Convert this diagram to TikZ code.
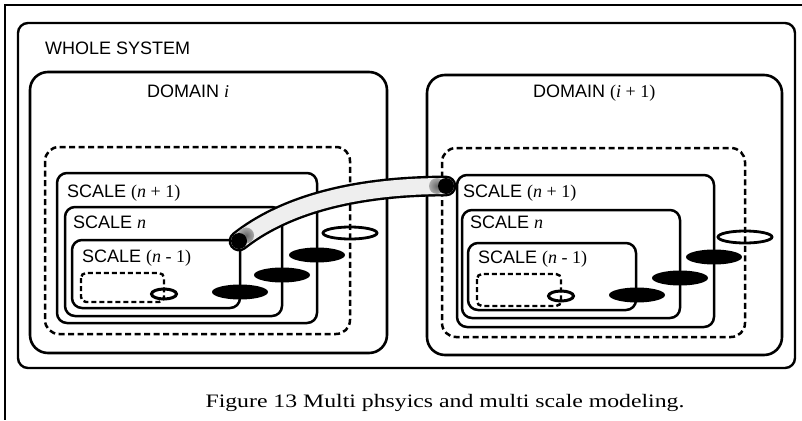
\documentclass[tikz,border=0pt]{standalone}
\usepackage{fontspec}
\setmainfont{Liberation Serif}
\setsansfont{Liberation Sans}
\usepackage{graphicx}
\usetikzlibrary{shapes.geometric, calc}
\definecolor{pipefill}{RGB}{238,238,238}
\pgfdeclareradialshading{pipeend}{\pgfpointorigin}{color(0bp)=(black); color(32bp)=(black); color(50bp)=(pipefill)}
\pgfdeclareradialshading{pipefade}{\pgfpointorigin}{color(0bp)=(black!60); color(50bp)=(pipefill)}

\begin{document}
\begin{tikzpicture}[x=1pt, y=-1pt,
  lbl/.style={anchor=base west, inner sep=0pt, font=\sffamily\fontsize{18}{20}\selectfont},
  sysbox/.style={line width=2.4pt, rounded corners=10pt},
  dbox/.style={line width=2.6pt, rounded corners=18pt},
  cutbox/.style={line width=2.5pt, dash pattern=on 6pt off 3.5pt, rounded corners=14pt},
  sbox/.style={line width=2.5pt, rounded corners=10pt},
  hole/.style={line width=2.4pt, dash pattern=on 5pt off 3pt, rounded corners=5pt},
  port/.style={ellipse, fill=black, inner sep=0pt, minimum width=56pt, minimum height=15pt},
  gate/.style={ellipse, draw, fill=white, line width=2.8pt, inner sep=0pt, minimum width=54pt, minimum height=12pt},
  tinygate/.style={gate, line width=3pt, minimum width=25pt, minimum height=10pt},
  pipe/.style={line width=2.4pt, double=pipefill, double distance=16pt, line cap=round}]
  \useasboundingbox (0,0) rectangle (802,420);
  % page frame
  \draw[line width=1.4pt] (802,5) -- (5,5) -- (5,420);

  % ports first, the box edges run over them
  \node[port] (lp1) at (240,292) {};
  \node[port] (lp2) at (282,275) {};
  \node[port] (lp3) at (317,255) {};
  \node[gate] (lg) at (350,233) {};
  \node[tinygate] (lt) at (164,294) {};
  \node[port] (rp1) at (637,295) {};
  \node[port] (rp2) at (680,278) {};
  \node[port] (rp3) at (714,257) {};
  \node[gate] (rg) at (745,237) {};
  \node[tinygate] (rt) at (561,296) {};

  % whole system
  \draw[sysbox] (18,23) rectangle (795,368);
  \node[lbl] (whole) at (45,55) {WHOLE SYSTEM};

  % LEFT: domain i
  \draw[dbox] (30,72) rectangle (387,353);
  \draw[cutbox] (45,147) rectangle (350,334);
  \draw[sbox] (57,173) rectangle (317,323);
  \draw[sbox] (65,207) rectangle (282,316);
  \draw[sbox] (72,240) rectangle (240,308);
  \draw[hole] (81,273) rectangle (164,302);
  \node[lbl] (domi) at (147,97) {DOMAIN {\rmfamily\itshape i}};
  \node[lbl] (lnp) at (67,197) {SCALE {\rmfamily(\textit{n} + 1)}};
  \node[lbl] (ln) at (73,228) {SCALE {\rmfamily\itshape n}};
  \node[lbl] (lnm) at (82,262) {SCALE {\rmfamily(\textit{n} - 1)}};

  % RIGHT: domain i+1
  \draw[dbox] (427,75) rectangle (782,355);
  \draw[cutbox] (442,148) rectangle (745,337);
  \draw[sbox] (457,175) rectangle (714,327);
  \draw[sbox] (462,210) rectangle (680,318);
  \draw[sbox] (468,243) rectangle (636,310);
  \draw[hole] (477,274) rectangle (561,306);
  \node[lbl] (domj) at (533,97) {DOMAIN {\rmfamily(\textit{i} + 1)}};
  \node[lbl] (rnp) at (463,197) {SCALE {\rmfamily(\textit{n} + 1)}};
  \node[lbl] (rn) at (470,228) {SCALE {\rmfamily\itshape n}};
  \node[lbl] (rnm) at (478,263) {SCALE {\rmfamily(\textit{n} - 1)}};

  % coupling pipe between the two domains
  \coordinate (pipeL) at (239,241);
  \coordinate (pipeR) at (446,186);
  \draw[pipe] (pipeL) .. controls (282,207) and (350,186) .. (pipeR);
  \shade[shading=pipefade] ($(pipeL)!9pt!(282,207)$) circle (8pt);
  \shade[shading=pipefade] ($(pipeR)!9pt!(350,186)$) circle (8pt);
  \shade[shading=pipeend] (pipeL) circle (8pt);
  \shade[shading=pipeend] (pipeR) circle (8pt);

  \node[anchor=base, font=\fontsize{19}{22}\selectfont] (caption) at (445,407)
    {\scalebox{1.25}[1]{Figure 13 Multi phsyics and multi scale modeling.}};
\end{tikzpicture}
\end{document}
